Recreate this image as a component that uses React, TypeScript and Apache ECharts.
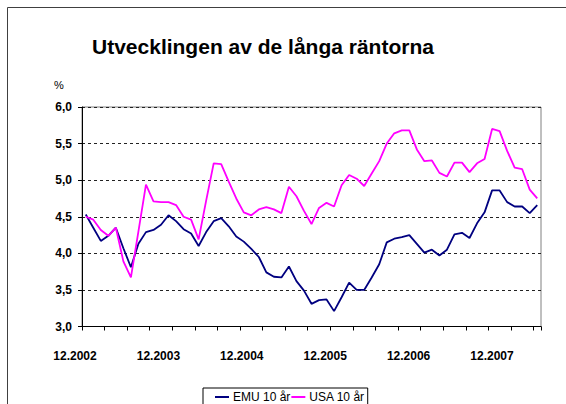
import React, { useEffect, useRef } from "react";
import * as echarts from "echarts";

const TITLE = "Utvecklingen av de långa räntorna";
const UNIT = "%";
const X_LABELS = ["12.2002", "12.2003", "12.2004", "12.2005", "12.2006", "12.2007"];
const SERIES_NAMES = ["EMU 10 år", "USA 10 år"];

// Monthly observations 12.2002 .. 12.2007 (61 months)
const emu = [
  4.53, 4.35, 4.17, 4.24, 4.35, 4.07, 3.81, 4.13, 4.29, 4.32,
  4.39, 4.52, 4.44, 4.33, 4.27, 4.10, 4.29, 4.44, 4.48, 4.37,
  4.23, 4.16, 4.06, 3.95, 3.74, 3.68, 3.67, 3.82, 3.62, 3.49,
  3.31, 3.36, 3.37, 3.21, 3.40, 3.60, 3.50, 3.50, 3.67, 3.85,
  4.15, 4.20, 4.22, 4.25, 4.13, 4.01, 4.05, 3.97, 4.05, 4.26,
  4.28, 4.21, 4.41, 4.56, 4.86, 4.86, 4.70, 4.64, 4.64, 4.55,
  4.66,
];
const usa = [
  4.50, 4.46, 4.32, 4.24, 4.35, 3.89, 3.67, 4.30, 4.94, 4.71,
  4.70, 4.70, 4.66, 4.50, 4.46, 4.19, 4.72, 5.23, 5.22, 4.98,
  4.75, 4.56, 4.52, 4.60, 4.63, 4.60, 4.55, 4.91, 4.78, 4.58,
  4.40, 4.62, 4.69, 4.64, 4.93, 5.07, 5.02, 4.92, 5.09, 5.26,
  5.50, 5.64, 5.68, 5.68, 5.42, 5.26, 5.27, 5.10, 5.05, 5.24,
  5.24, 5.11, 5.23, 5.29, 5.70, 5.67, 5.40, 5.17, 5.15, 4.87,
  4.75,
];

const months: string[] = [];
for (let i = 0; i < emu.length; i++) {
  const m = ((11 + i) % 12) + 1;
  const y = 2002 + Math.floor((11 + i) / 12);
  months.push(String(m).padStart(2, "0") + "." + y);
}

const FONT = "Liberation Sans, Arial, sans-serif";

export default function App() {
  const ref = useRef<HTMLDivElement>(null);
  useEffect(() => {
    if (!ref.current) return;
    const chart = echarts.init(ref.current, null, { renderer: "svg" });
    chart.setOption({
      animation: false,
      backgroundColor: "#ffffff",
      textStyle: { fontFamily: FONT },
      title: {
        text: TITLE,
        left: 92,
        top: 36,
        padding: 0,
        textStyle: { fontFamily: FONT, fontSize: 21, fontWeight: "bold", color: "#000" },
      },
      graphic: [
        {
          type: "rect",
          shape: { x: 7.5, y: 7.5, width: 700, height: 600 },
          style: { fill: "none", stroke: "#404040", lineWidth: 1 },
          silent: true,
        },
        {
          type: "text",
          x: 59,
          y: 85,
          style: {
            text: UNIT,
            font: "11px " + FONT,
            fill: "#000",
            textAlign: "center",
            textVerticalAlign: "middle",
          },
        },
      ],
      legend: {
        data: SERIES_NAMES,
        left: 203,
        top: 388,
        orient: "horizontal",
        icon: "rect",
        itemWidth: 14,
        itemHeight: 2,
        itemGap: 1,
        padding: [3, 3, 20, 12],
        borderColor: "#000",
        borderWidth: 1,
        textStyle: {
          fontFamily: FONT,
          fontSize: 12,
          lineHeight: 12,
          color: "#000",
          padding: [0, 0, 0, -1],
        },
      },
      grid: [
        {
          left: 82,
          top: 107,
          width: 459,
          height: 219.5,
          show: true,
          borderColor: "#808080",
          borderWidth: 1,
          backgroundColor: "transparent",
        },
        {
          left: 75,
          top: 107,
          width: 417,
          height: 219.5,
          show: false,
        },
      ],
      xAxis: [
        {
          type: "category",
          gridIndex: 0,
          data: months,
          boundaryGap: true,
          axisLine: { lineStyle: { color: "#000", width: 1 } },
          axisTick: { show: true, interval: 2, length: 4, lineStyle: { color: "#000" } },
          axisLabel: { show: false },
          splitLine: { show: false },
        },
        {
          type: "category",
          gridIndex: 1,
          data: X_LABELS,
          boundaryGap: false,
          axisLine: { show: false },
          axisTick: { show: false },
          axisLabel: {
            show: true,
            interval: 0,
            margin: 23,
            fontFamily: FONT,
            fontSize: 12,
            fontWeight: "bold",
            color: "#000",
          },
          splitLine: { show: false },
        },
      ],
      yAxis: [
        {
          type: "value",
          gridIndex: 0,
          min: 3,
          max: 6,
          interval: 0.5,
          axisLine: { show: true, lineStyle: { color: "#000", width: 1 } },
          axisTick: { show: true, length: 4, lineStyle: { color: "#000" } },
          axisLabel: {
            margin: 10,
            fontFamily: FONT,
            fontSize: 12,
            fontWeight: "bold",
            color: "#000",
            formatter: (v: number) => v.toFixed(1).replace(".", ","),
          },
          splitLine: {
            show: true,
            lineStyle: { color: "#222", width: 1, type: [3, 3] },
          },
        },
        {
          type: "value",
          gridIndex: 1,
          show: false,
          min: 0,
          max: 1,
        },
      ],
      series: [
        {
          name: SERIES_NAMES[0],
          type: "line",
          xAxisIndex: 0,
          yAxisIndex: 0,
          data: emu,
          symbol: "none",
          color: "#000080",
          lineStyle: { color: "#000080", width: 1.8 },
        },
        {
          name: SERIES_NAMES[1],
          type: "line",
          xAxisIndex: 0,
          yAxisIndex: 0,
          data: usa,
          symbol: "none",
          color: "#FF00FF",
          lineStyle: { color: "#FF00FF", width: 1.8 },
        },
      ],
    });
    return () => chart.dispose();
  }, []);
  return (
    <div
      ref={ref}
      style={{ position: "absolute", left: 0, top: 0, width: 566, height: 404 }}
    />
  );
}
